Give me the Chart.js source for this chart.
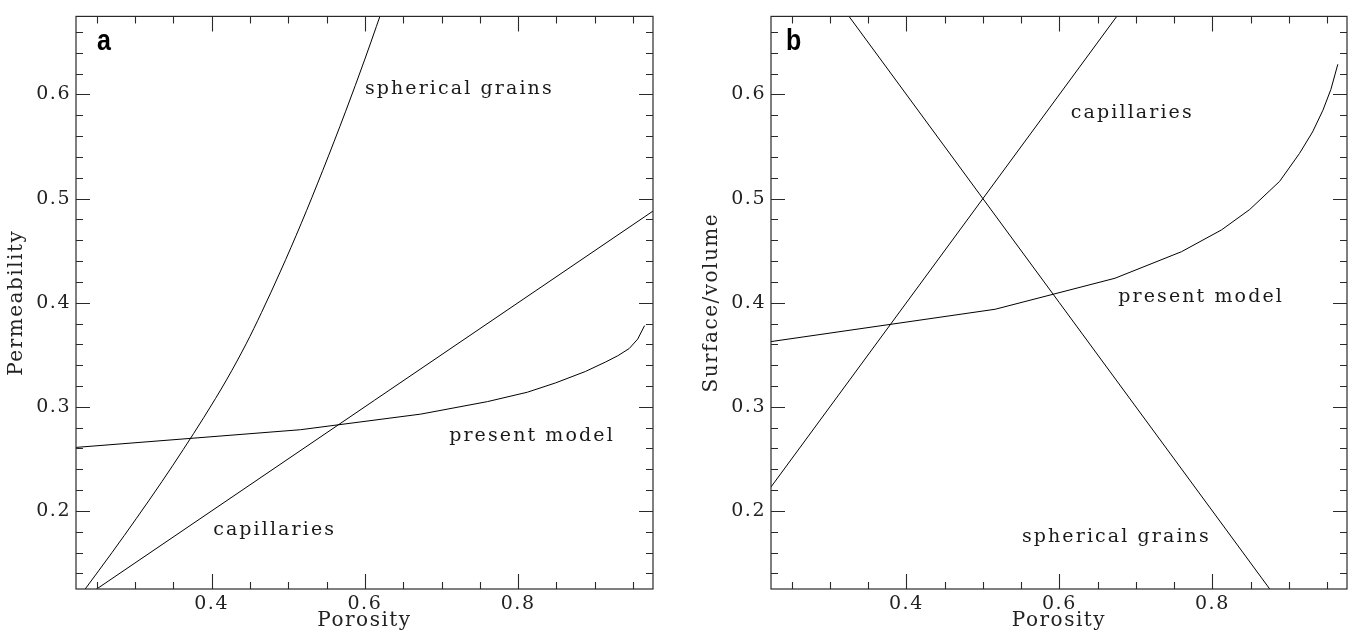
<!DOCTYPE html>
<html><head><meta charset="utf-8">
<script src="https://cdn.jsdelivr.net/npm/chart.js@4.4.0/dist/chart.umd.min.js"></script>
<style>
html,body{margin:0;padding:0;background:#fff;}
#wrap{position:relative;width:1355px;height:635px;overflow:hidden;background:#fff;}
canvas{position:absolute;top:0;}
#cA{left:0;}
#cB{left:677px;}
</style></head><body>
<div id="wrap"><canvas id="cA" width="677" height="635"></canvas><canvas id="cB" width="678" height="635"></canvas></div>
<script>
// ---- axes ----
const xMin = 0.223, xMax = 0.976;
const yMin = 0.125, yMax = 0.675;
const xMajorTicks = [0.4, 0.6, 0.8];
const xMinorTicks = [0.25, 0.3, 0.35, 0.45, 0.5, 0.55, 0.65, 0.7, 0.75, 0.85, 0.9, 0.95];
const yMajorTicks = [0.2, 0.3, 0.4, 0.5, 0.6];
const yMinorTicks = [0.14, 0.16, 0.18, 0.22, 0.24, 0.26, 0.28, 0.32, 0.34, 0.36, 0.38, 0.42, 0.44, 0.46, 0.48, 0.52, 0.54, 0.56, 0.58, 0.62, 0.64, 0.66];

// ---- panel a : Permeability ----
const sphereA_x = [0.235, 0.27, 0.302, 0.335, 0.363, 0.39, 0.42, 0.445, 0.465, 0.49, 0.517, 0.545, 0.575, 0.6, 0.63];
const sphereA_y = [0.125, 0.160, 0.193, 0.228, 0.259, 0.290, 0.3266, 0.3604, 0.3904, 0.4304, 0.4763, 0.527, 0.584, 0.634, 0.697];
const capA_x = [0.24, 0.98];
const capA_y = [0.12, 0.49];
const presentA_x = [0.223, 0.516, 0.673, 0.76, 0.812, 0.849, 0.888, 0.914, 0.93, 0.945, 0.956, 0.965];
const presentA_y = [0.261, 0.278, 0.293, 0.305, 0.314, 0.323, 0.334, 0.343, 0.349, 0.356, 0.365, 0.378];
const labelsA = ['spherical grains', 'present model', 'capillaries'];
const labelsA_x = [0.60, 0.71, 0.402];
const labelsA_y = [0.605, 0.272, 0.1816];

// ---- panel b : Surface/volume ----
const sphereB_x = [0.32, 0.88];
const sphereB_y = [0.68, 0.12];
const capB_x = [0.22, 0.68];
const capB_y = [0.22, 0.68];
const presentB_x = [0.2226, 0.516, 0.6727, 0.7597, 0.8119, 0.8488, 0.888, 0.914, 0.931, 0.9445, 0.955, 0.964];
const presentB_y = [0.3626, 0.3937, 0.4235, 0.449, 0.4699, 0.4895, 0.5166, 0.5435, 0.564, 0.5848, 0.605, 0.629];
const labelsB = ['capillaries', 'present model', 'spherical grains'];
const labelsB_x = [0.615, 0.677, 0.551];
const labelsB_y = [0.582, 0.4054, 0.175];

const SERIF = "'DejaVu Serif', serif";
const pts = (xs, ys) => xs.map((x, i) => ({x: x, y: ys[i]}));
const ds = (xs, ys, smooth) => ({
  data: pts(xs, ys), showLine: true, borderColor: '#000', borderWidth: 1,
  pointRadius: 0, fill: false,
  tension: smooth ? 0.4 : 0, cubicInterpolationMode: smooth ? 'monotone' : 'default'
});

const framePlugin = {
  id: 'frame',
  beforeDraw(chart) { chart.ctx.letterSpacing = '1.5px'; },
  afterDraw(chart, args, opts) {
    const ctx = chart.ctx, ca = chart.chartArea;
    const xs = chart.scales.x, ys = chart.scales.y;
    ctx.save();
    ctx.letterSpacing = '0px';
    ctx.strokeStyle = '#2a2a2a';
    ctx.lineWidth = 1.2;
    ctx.strokeRect(ca.left, ca.top, ca.right - ca.left, ca.bottom - ca.top);
    ctx.lineWidth = 1.1;
    ctx.beginPath();
    const xt = (vals, len) => vals.forEach(v => {
      const p = Math.round(xs.getPixelForValue(v)) + 0.5;
      ctx.moveTo(p, ca.bottom); ctx.lineTo(p, ca.bottom - len);
      ctx.moveTo(p, ca.top); ctx.lineTo(p, ca.top + len);
    });
    const yt = (vals, len) => vals.forEach(v => {
      const p = Math.round(ys.getPixelForValue(v)) + 0.5;
      ctx.moveTo(ca.left, p); ctx.lineTo(ca.left + len, p);
      ctx.moveTo(ca.right, p); ctx.lineTo(ca.right - len, p);
    });
    xt(xMajorTicks, 15); xt(xMinorTicks, 7);
    yt(yMajorTicks, 14); yt(yMinorTicks, 7);
    ctx.stroke();
    // curve labels
    ctx.fillStyle = '#1a1a1a';
    ctx.font = '19px ' + SERIF;
    ctx.letterSpacing = '2.1px';
    ctx.textBaseline = 'middle';
    ctx.textAlign = 'left';
    opts.texts.forEach((t, i) => {
      ctx.fillText(t, xs.getPixelForValue(opts.tx[i]), ys.getPixelForValue(opts.ty[i]));
    });
    // panel letter
    ctx.letterSpacing = '0px';
    ctx.font = "bold 25px 'Liberation Sans', Arial, sans-serif";
    ctx.textBaseline = 'alphabetic';
    ctx.fillStyle = '#000';
    ctx.translate(ca.left + opts.letterDx, 50);
    ctx.scale(1, 1.18);
    ctx.fillText(opts.letter, 0, 0);
    ctx.restore();
  }
};

function makeChart(id, datasets, yTitle, yAxisWidth, rightPad, yTitlePad, letter, letterDx, texts, tx, ty) {
  return new Chart(document.getElementById(id), {
    type: 'scatter',
    data: {datasets: datasets},
    options: {
      responsive: false, animation: false, devicePixelRatio: 1,
      layout: {padding: {left: 0, top: 12, right: rightPad, bottom: 0}},
      plugins: {
        legend: {display: false}, tooltip: {enabled: false},
        frame: {letter: letter, letterDx: letterDx, texts: texts, tx: tx, ty: ty}
      },
      scales: {
        x: {
          type: 'linear', min: xMin, max: xMax,
          grid: {display: false, drawTicks: false}, border: {display: false},
          afterBuildTicks: s => { s.ticks = xMajorTicks.map(v => ({value: v})); },
          afterFit: s => { s.height = 46; },
          ticks: {padding: 4, color: '#222', maxRotation: 0, minRotation: 0, autoSkip: false,
                  font: {family: SERIF, size: 19}, callback: v => Number(v).toFixed(1)},
          title: {display: true, text: 'Porosity', color: '#222',
                  font: {family: SERIF, size: 20}, padding: {top: 0, bottom: 2}}
        },
        y: {
          type: 'linear', min: yMin, max: yMax,
          grid: {display: false, drawTicks: false}, border: {display: false},
          afterBuildTicks: s => { s.ticks = yMajorTicks.map(v => ({value: v})); },
          afterFit: s => { s.width = yAxisWidth; },
          ticks: {padding: 5, color: '#222', autoSkip: false,
                  font: {family: SERIF, size: 19}, callback: v => Number(v).toFixed(1)},
          title: {display: true, text: yTitle, color: '#222',
                  font: {family: SERIF, size: 20}, padding: {top: yTitlePad, bottom: 0}}
        }
      }
    },
    plugins: [framePlugin]
  });
}

makeChart('cA', [
  ds(sphereA_x, sphereA_y, true),
  ds(capA_x, capA_y, false),
  ds(presentA_x, presentA_y, false)
], 'Permeability', 76, 24, 5, 'a', 21, labelsA, labelsA_x, labelsA_y);

makeChart('cB', [
  ds(sphereB_x, sphereB_y, false),
  ds(capB_x, capB_y, false),
  ds(presentB_x, presentB_y, false)
], 'Surface/volume', 94, 8, 23, 'b', 15, labelsB, labelsB_x, labelsB_y);
</script>
</body></html>
